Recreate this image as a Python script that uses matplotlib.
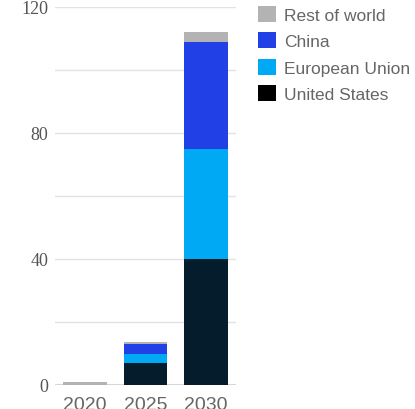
import numpy as np
import matplotlib
matplotlib.use("Agg")
import matplotlib.pyplot as plt
from matplotlib.patches import Patch

years = ["2020", "2025", "2030"]
united_states = [0, 7, 40]
european_union = [0, 3, 35]
china = [0, 3, 34]
rest_of_world = [1, 0.7, 3]

series_names = ["United States", "European Union", "China", "Rest of world"]
bar_colors = ["#051c2c", "#00a9f4", "#2140e6", "#b3b3b3"]
legend_colors = ["#000000", "#00a9f4", "#2140e6", "#b3b3b3"]

fig = plt.figure(figsize=(4.15, 4.10), dpi=100)
ax = fig.add_axes([55 / 415, 24 / 410, 181 / 415, 378 / 410])

x = np.arange(len(years))
bottom = np.zeros(len(years))
for vals, col in zip([united_states, european_union, china, rest_of_world], bar_colors):
    ax.bar(x, vals, width=0.72, bottom=bottom, color=col, zorder=3)
    bottom += np.array(vals)

ax.set_xlim(-0.5, 2.5)
ax.set_ylim(0, 120)
ax.set_yticks([0, 40, 80, 120])
ax.set_yticks([20, 60, 100], minor=True)
ax.grid(axis="y", which="both", color="#e2e2e2", linewidth=1, zorder=0)
ax.axhline(0, color="#d6d6d6", linewidth=1.5, zorder=2)
for s in ax.spines.values():
    s.set_visible(False)
ax.tick_params(axis="both", which="both", length=0)
ax.tick_params(axis="y", pad=5)
ax.tick_params(axis="x", pad=8)
ax.set_xticks(x)
ax.set_xticklabels(years, fontfamily="Liberation Sans", fontsize=14, color="#666666")
for lab in ax.get_yticklabels():
    lab.set_fontfamily("Liberation Serif")
    lab.set_fontsize(13)
    lab.set_color("#555555")

handles = [Patch(facecolor=c, edgecolor="none") for c in legend_colors[::-1]]
fig.legend(handles, series_names[::-1], loc="upper left",
           bbox_to_anchor=(258 / 415, 403 / 410), frameon=False,
           prop={"family": "Liberation Sans", "size": 12.5},
           labelcolor="#666666", handlelength=1.04, handleheight=1.04,
           handletextpad=0.48, labelspacing=0.55, borderpad=0, borderaxespad=0)

fig.savefig("out.png", dpi=100)
